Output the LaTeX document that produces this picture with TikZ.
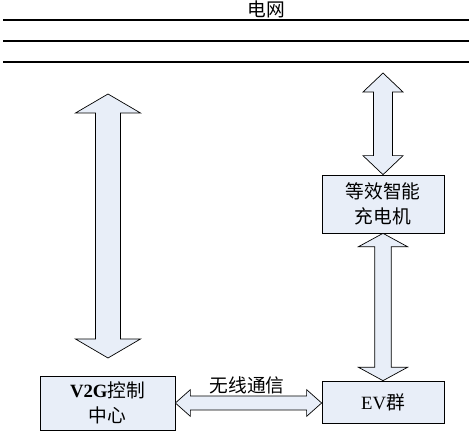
\documentclass[tikz,border=0pt]{standalone}
\usepackage{fontspec}
\setmainfont{Liberation Serif}
\newfontfamily\cjk{Noto Sans CJK SC}
\usetikzlibrary{calc}

% fat double arrow between two points: from, to, head length, half shaft, half head
\newcommand\fatarrow[5]{%
  \coordinate (fa-p) at ($(#1)!#3!(#2)$);
  \coordinate (fa-q) at ($(#2)!#3!(#1)$);
  \draw[fatarr] (#1) -- ($(fa-p)!#5!90:(#2)$) -- ($(fa-p)!#4!90:(#2)$)
    -- ($(fa-q)!#4!-90:(#1)$) -- ($(fa-q)!#5!-90:(#1)$) -- (#2)
    -- ($(fa-q)!#5!90:(#1)$) -- ($(fa-q)!#4!90:(#1)$)
    -- ($(fa-p)!#4!-90:(#2)$) -- ($(fa-p)!#5!-90:(#2)$) -- cycle;}

\definecolor{boxfill}{RGB}{232,238,248}

\begin{document}
\begin{tikzpicture}[
    x=0.03cm, y=-0.03cm,
    box/.style={draw, fill=boxfill, align=center, inner sep=2pt,
                font=\fontsize{16}{21}\selectfont, line width=0.6pt},
    fatarr/.style={draw, fill=boxfill, line width=0.6pt, line join=miter},
    bus/.style={line width=1pt}
  ]
  \useasboundingbox (0,0) rectangle (472,431);

  % grid bus
  \node[font=\fontsize{16}{18}\selectfont] (grid) at (266,9) {\cjk 电网};
  \coordinate (busL) at (3,20);
  \coordinate (busR) at (469,20);
  \foreach \dy in {0,21,42}
    \draw[bus] ($(busL)+(0,\dy)$) -- ($(busR)+(0,\dy)$);

  % boxes
  \node[box, minimum width=4.05cm, minimum height=1.62cm] (v2g) at (107.5,403)
    {\textbf{V2G}{\cjk 控制}\\{\cjk 中心}};
  \node[box, minimum width=3.66cm, minimum height=1.74cm] (charger) at (383,204)
    {{\cjk 等效智能}\\{\cjk 充电机}};
  \node[box, minimum width=3.66cm, minimum height=1.26cm] (ev) at (383,402)
    {EV{\cjk 群}};

  % arrows
  \coordinate (gridA) at (108,94);
  \coordinate (gridB) at (383,73);
  \coordinate (v2gTop) at (108,358);
  \coordinate (evWest) at (ev.west |- v2g.east);
  \fatarrow{gridA}{v2gTop}{0.57cm}{0.375cm}{0.975cm}
  \fatarrow{gridB}{charger.north}{0.57cm}{0.285cm}{0.6cm}
  \fatarrow{charger.south}{ev.north}{0.4cm}{0.25cm}{0.735cm}
  \fatarrow{v2g.east}{evWest}{0.45cm}{0.21cm}{0.4cm}

  \node[font=\fontsize{16}{18}\selectfont] (wireless) at (247,385) {\cjk 无线通信};
\end{tikzpicture}
\end{document}
